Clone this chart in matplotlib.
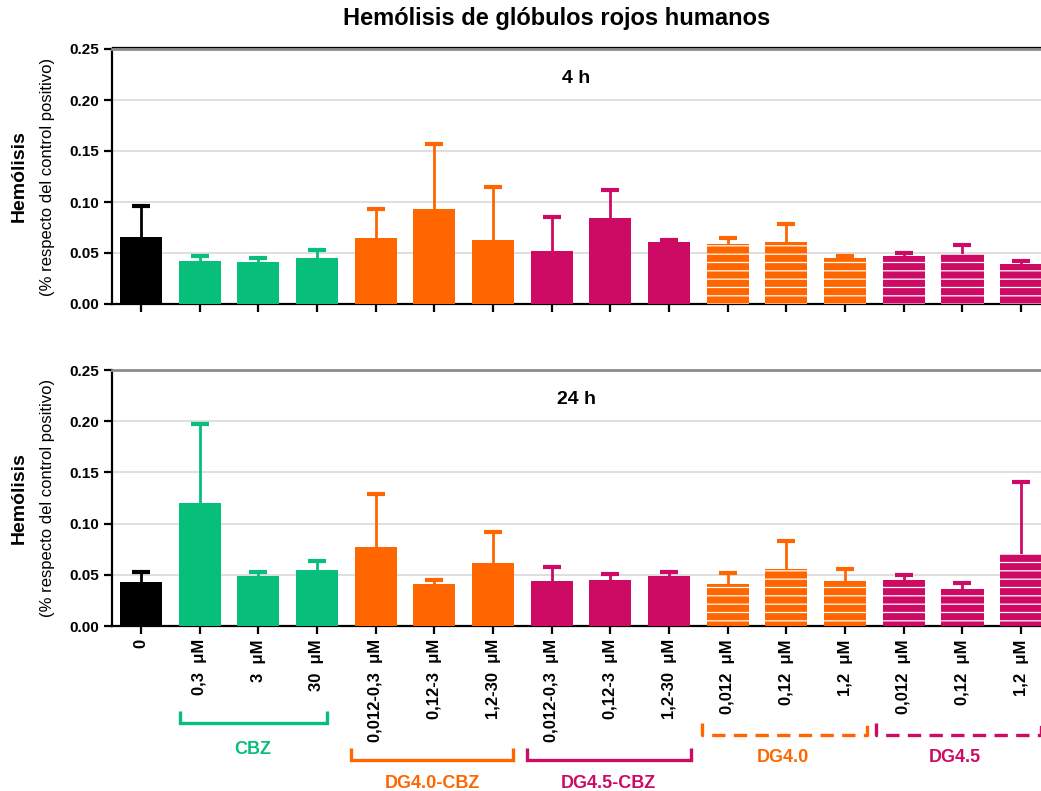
import matplotlib
matplotlib.use("Agg")
import matplotlib.pyplot as plt
from matplotlib.transforms import blended_transform_factory
import numpy as np

plt.rcParams['font.family'] = ['Liberation Sans', 'DejaVu Sans']
plt.rcParams['hatch.linewidth'] = 0.9

# ---------------- data ----------------
tick_labels = ["0", "0,3  \u03bcM", "3  \u03bcM", "30  \u03bcM",
               "0,012-0,3  \u03bcM", "0,12-3  \u03bcM", "1,2-30  \u03bcM",
               "0,012-0,3  \u03bcM", "0,12-3  \u03bcM", "1,2-30  \u03bcM",
               "0,012  \u03bcM", "0,12  \u03bcM", "1,2  \u03bcM",
               "0,012  \u03bcM", "0,12  \u03bcM", "1,2  \u03bcM"]
group_of_bar = ["ctrl", "CBZ", "CBZ", "CBZ",
                "DG4.0-CBZ", "DG4.0-CBZ", "DG4.0-CBZ",
                "DG4.5-CBZ", "DG4.5-CBZ", "DG4.5-CBZ",
                "DG4.0", "DG4.0", "DG4.0",
                "DG4.5", "DG4.5", "DG4.5"]

mean_4h = [0.066, 0.042, 0.041, 0.045, 0.065, 0.093, 0.0625, 0.052, 0.084, 0.0605,
           0.059, 0.0605, 0.045, 0.0467, 0.0494, 0.0395]
top_4h = [0.096, 0.047, 0.045, 0.053, 0.093, 0.157, 0.115, 0.085, 0.112, 0.063,
          0.065, 0.078, 0.0467, 0.0503, 0.058, 0.0418]

mean_24h = [0.043, 0.120, 0.049, 0.0546, 0.077, 0.041, 0.0614, 0.0435, 0.0448, 0.0493,
            0.041, 0.056, 0.0438, 0.045, 0.036, 0.070]
top_24h = [0.0526, 0.197, 0.053, 0.0634, 0.129, 0.0448, 0.0918, 0.0575, 0.051, 0.0526,
           0.0513, 0.083, 0.056, 0.050, 0.042, 0.141]

groups = ["CBZ", "DG4.0-CBZ", "DG4.5-CBZ", "DG4.0", "DG4.5"]
bracket_span = [(0.665, 3.17), (3.574, 6.34), (6.574, 9.37), (9.557, 12.37), (12.53, 15.34)]
label_x = [1.91, 4.96, 7.96, 10.94, 13.87]

# ---------------- styles ----------------
GREEN = "#07BF7A"
ORANGE = "#FF6600"
MAGENTA = "#CD0A64"
colors = {"ctrl": "black", "CBZ": GREEN, "DG4.0-CBZ": ORANGE, "DG4.5-CBZ": MAGENTA,
          "DG4.0": ORANGE, "DG4.5": MAGENTA}
hatched = {"DG4.0", "DG4.5"}
bracket_style = {"CBZ": ("solid", 711, 723, 749),
                 "DG4.0-CBZ": ("solid", 748, 760, 784),
                 "DG4.5-CBZ": ("solid", 748, 760, 784),
                 "DG4.0": ("dashed", 723, 735, 757),
                 "DG4.5": ("dashed", 723, 735, 757)}

W, H = 1041, 791
fig = plt.figure(figsize=(W / 100, H / 100), dpi=100)
left = 112 / W
ax1 = fig.add_axes([left, 1 - 304 / H, 1 - left, (304 - 49) / H])
ax2 = fig.add_axes([left, 1 - 626 / H, 1 - left, (626 - 370) / H])

x = np.arange(len(tick_labels))
width = 0.72


def draw(ax, means, tops, title, black_top=False):
    for i, (m, t, g) in enumerate(zip(means, tops, group_of_bar)):
        c = colors[g]
        # upper error bar only: stem from bar top plus a cap
        ax.errorbar(x[i], t, yerr=[[t - m], [0]], fmt="none", ecolor=c,
                    elinewidth=2.0, capsize=0, zorder=2)
        ax.errorbar(x[i], t, xerr=0.155, fmt="none", ecolor=c,
                    elinewidth=3.0, capsize=0, zorder=2)
        if g in hatched:
            ax.bar(x[i], m, width=width, color=c, edgecolor="white", hatch="--",
                   linewidth=0, zorder=3)
        else:
            ax.bar(x[i], m, width=width, color=c, linewidth=0, zorder=3)
    ax.set_xlim(-0.494, 15.34)
    ax.set_ylim(0, 0.25)
    ax.set_yticks([0, 0.05, 0.10, 0.15, 0.20, 0.25])
    ax.set_yticklabels(["0.00", "0.05", "0.10", "0.15", "0.20", "0.25"],
                       fontweight="bold", fontsize=11)
    for yv in [0.05, 0.10, 0.15, 0.20]:
        ax.axhline(yv, color="#d9d9d9", lw=1.2, zorder=1)
    ax.set_xticks(x)
    ax.tick_params(axis="both", direction="out", length=6, width=1.6, color="black")
    ax.spines["right"].set_visible(False)
    ax.spines["left"].set_linewidth(1.6)
    ax.spines["bottom"].set_linewidth(1.6)
    ax.spines["top"].set_color("#8c8c8c")
    ax.spines["top"].set_linewidth(2.0)
    if black_top:
        ax.axhline(0.2515, color="black", lw=0.9, clip_on=False, zorder=5)
    ax.text(0.5, 0.885, title, transform=ax.transAxes, ha="center", va="center",
            fontsize=14, fontweight="bold")
    cy = 0.5
    ax.text(-0.1, cy, "Hemólisis", transform=ax.transAxes, rotation=90,
            ha="center", va="center", fontsize=14, fontweight="bold")
    ax.text(-0.069, cy, "(% respecto del control positivo)", transform=ax.transAxes,
            rotation=90, ha="center", va="center", fontsize=12)


draw(ax1, mean_4h, top_4h, "4 h", black_top=True)
draw(ax2, mean_24h, top_24h, "24 h")
ax1.set_xticklabels([])
ax2.set_xticklabels(tick_labels, rotation=90, fontweight="bold", fontsize=12,
                    va="top", ha="center")

fig.text(557 / W, 1 - 19 / H, "Hemólisis de glóbulos rojos humanos", ha="center",
         va="center", fontsize=17, fontweight="bold")

# group brackets
tr = blended_transform_factory(ax2.transData, fig.transFigure)
for g, (x0, x1), lx in zip(groups, bracket_span, label_x):
    style, ytop, ybot, ylab = bracket_style[g]
    c = colors[g]
    yt, yb = 1 - ytop / H, 1 - ybot / H
    ls = (0, (4, 2.5)) if style == "dashed" else "-"
    ax2.plot([x0, x0, x1, x1], [yt, yb, yb, yt], transform=tr, color=c, lw=2.4,
             ls=ls, clip_on=False, solid_joinstyle="miter", solid_capstyle="butt",
             dash_capstyle="butt")
    ax2.text(lx, 1 - ylab / H, g, color=c, fontsize=13, fontweight="bold",
             ha="center", va="center", transform=tr)

fig.savefig("out.png", dpi=100)
